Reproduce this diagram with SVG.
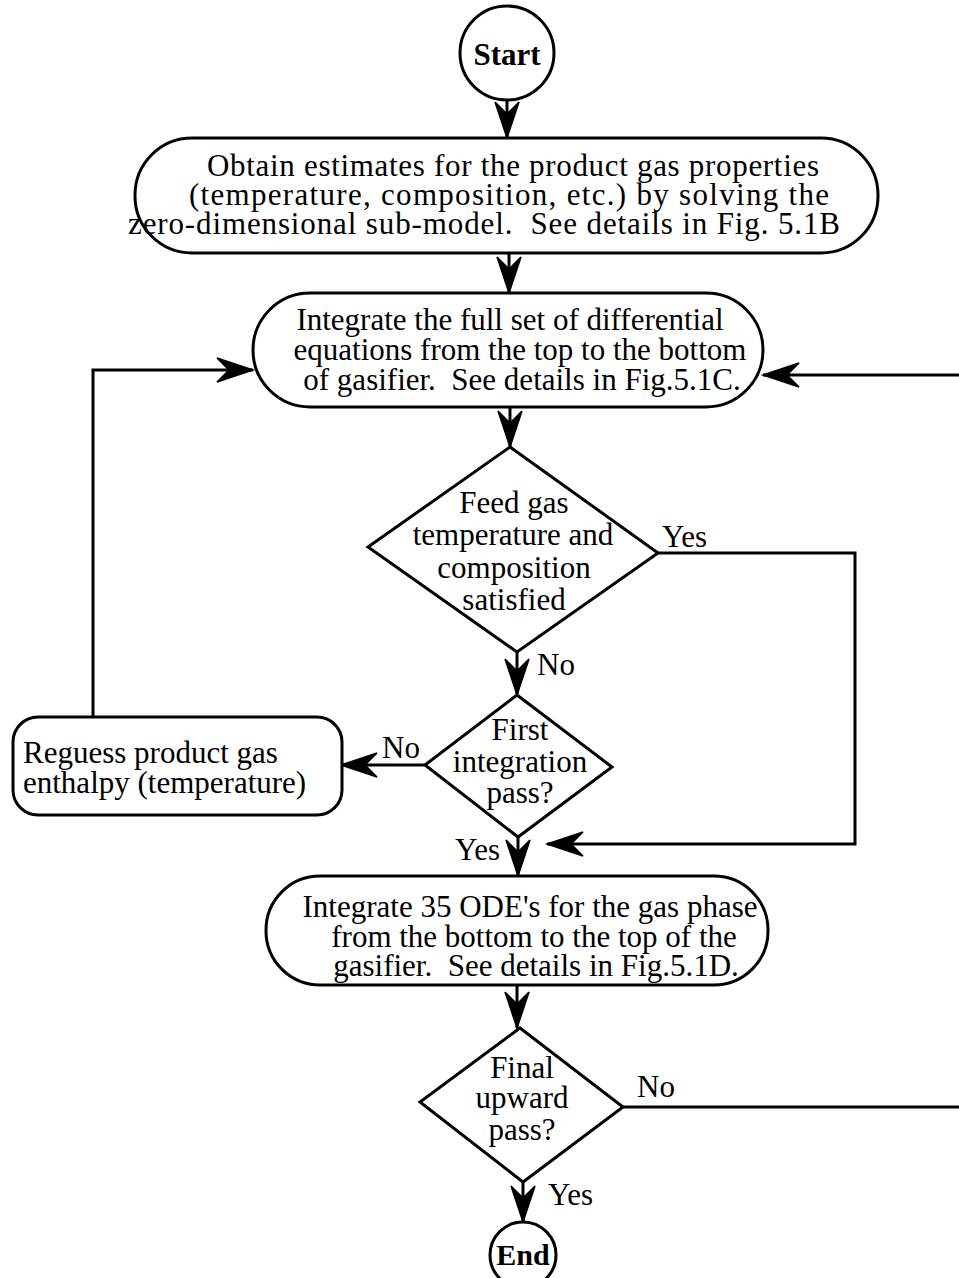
<svg xmlns="http://www.w3.org/2000/svg" width="959" height="1278" viewBox="0 0 959 1278">
<style>
.s{fill:#fff;stroke:#000;stroke-width:3}
.c{fill:none;stroke:#000;stroke-width:3}
text{font-family:"Liberation Serif","Times New Roman",serif;font-size:31px;fill:#000;white-space:pre}
.m{text-anchor:middle}
.b{font-weight:bold}
</style>
<defs>
<marker id="ah" markerUnits="userSpaceOnUse" markerWidth="40" markerHeight="28" refX="38" refY="13" orient="auto" overflow="visible">
<path d="M38,13 L2,1 L14,13 L2,25 Z" fill="#000" stroke="#000" stroke-width="1.5" stroke-linejoin="miter"/>
</marker>
</defs>
<rect width="959" height="1278" fill="#fff"/>
<g id="connectors">
<path class="c" d="M507,100 V138" marker-end="url(#ah)"/>
<path class="c" d="M509,253 V293" marker-end="url(#ah)"/>
<path class="c" d="M510,407 V447" marker-end="url(#ah)"/>
<path class="c" d="M658,553 H855 V844 H547" marker-end="url(#ah)"/>
<path class="c" d="M517,652 V695" marker-end="url(#ah)"/>
<path class="c" d="M425,765 H341" marker-end="url(#ah)"/>
<path class="c" d="M93,717 V370 H253" marker-end="url(#ah)"/>
<path class="c" d="M518,837 V876" marker-end="url(#ah)"/>
<path class="c" d="M517,985 V1028" marker-end="url(#ah)"/>
<path class="c" d="M623,1107 H975 V375 H763" marker-end="url(#ah)"/>
<path class="c" d="M523,1182 V1222" marker-end="url(#ah)"/>
<text x="662" y="547">Yes</text>
<text x="537" y="675">No</text>
<text x="382" y="758">No</text>
<text x="455" y="860">Yes</text>
<text x="637" y="1097">No</text>
<text x="548" y="1205">Yes</text>
</g>
<g id="start">
<circle class="s" cx="507" cy="53" r="47"/>
<text class="m b" x="507" y="65" style="font-size:31px">Start</text>
</g>
<g id="estimate">
<rect class="s" x="135" y="138" width="743" height="115" rx="57" ry="57"/>
<text class="m" x="513" y="176" textLength="612">Obtain estimates for the product gas properties</text>
<text class="m" x="509" y="205" textLength="640">(temperature, composition, etc.) by solving the</text>
<text class="m" x="484" y="234" textLength="712">zero-dimensional sub-model.  See details in Fig. 5.1B</text>
</g>
<g id="integrate-down">
<rect class="s" x="253" y="293" width="510" height="114" rx="57" ry="57"/>
<text class="m" x="510" y="330">Integrate the full set of differential</text>
<text class="m" x="520" y="360">equations from the top to the bottom</text>
<text class="m" x="522" y="390">of gasifier.  See details in Fig.5.1C.</text>
</g>
<g id="feed-check">
<polygon class="s" points="510,447 658,553 517,652 368,547"/>
<text class="m" x="514" y="513">Feed gas</text>
<text class="m" x="513" y="545">temperature and</text>
<text class="m" x="514" y="578">composition</text>
<text class="m" x="514" y="610">satisfied</text>
</g>
<g id="first-pass">
<polygon class="s" points="517,695 612,767 518,837 425,765"/>
<text class="m" x="520" y="740">First</text>
<text class="m" x="520" y="772">integration</text>
<text class="m" x="520" y="803">pass?</text>
</g>
<g id="reguess">
<rect class="s" x="13" y="717" width="329" height="98" rx="25" ry="25"/>
<text x="23" y="763">Reguess product gas</text>
<text x="23" y="793">enthalpy (temperature)</text>
</g>
<g id="integrate-up">
<rect class="s" x="266" y="876" width="502" height="109" rx="54" ry="54"/>
<text class="m" x="530" y="917">Integrate 35 ODE's for the gas phase</text>
<text class="m" x="534" y="947">from the bottom to the top of the</text>
<text class="m" x="536" y="976">gasifier.  See details in Fig.5.1D.</text>
</g>
<g id="final-pass">
<polygon class="s" points="520,1028 623,1107 523,1182 420,1102"/>
<text class="m" x="522" y="1078">Final</text>
<text class="m" x="522" y="1108">upward</text>
<text class="m" x="522" y="1140">pass?</text>
</g>
<g id="end">
<circle class="s" cx="523" cy="1255" r="33"/>
<text class="m b" x="523" y="1265" style="font-size:30px">End</text>
</g>
</svg>
